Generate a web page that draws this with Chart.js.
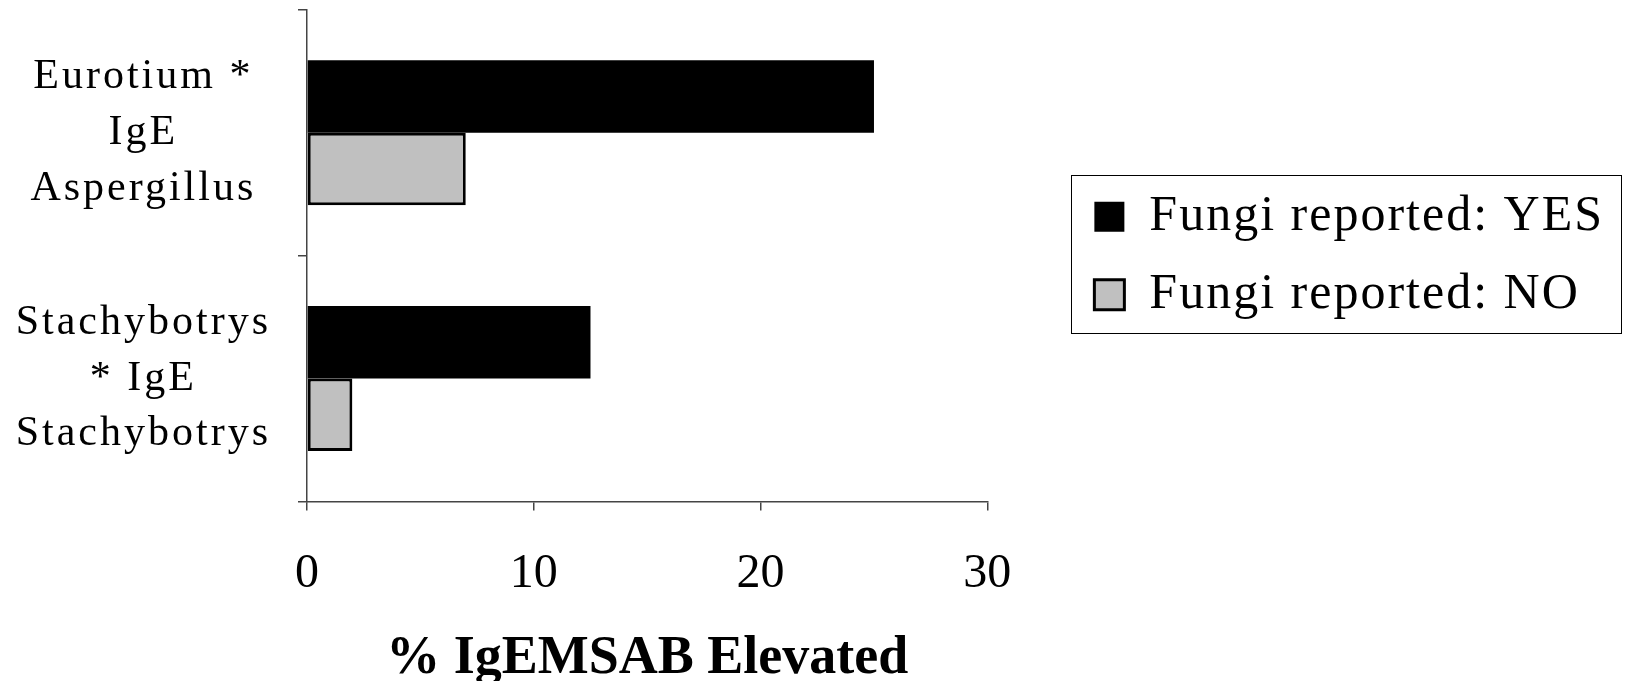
<!DOCTYPE html>
<html>
<head>
<meta charset="utf-8">
<script src="https://cdn.jsdelivr.net/npm/chart.js@4"></script>
<style>
  html, body { margin: 0; padding: 0; background: #fff; }
  #wrap { width: 1626px; height: 681px; position: relative; }
</style>
</head>
<body>
<div id="wrap"><canvas id="c"></canvas></div>
<script>
// Categories (multi-line labels) and series values
const categories = [
  ["Eurotium *", "IgE", "Aspergillus"],
  ["Stachybotrys", "* IgE", "Stachybotrys"]
];
const seriesNames = ["Fungi reported: YES", "Fungi reported: NO"];
const fungiYes = [25, 12.5];
const fungiNo = [7, 2];
const xTicks = [0, 10, 20, 30];
const axisTitle = "% IgEMSAB Elevated";

const SERIF = "'Liberation Serif', 'Times New Roman', serif";
const AXIS_COLOR = '#444';

// Wraps measuring and drawing methods so their text uses extra letter spacing
function spaced(obj, methods, spacing) {
  if (!obj || obj.__spaced) return;
  obj.__spaced = true;
  methods.forEach(m => {
    const orig = obj[m];
    if (typeof orig !== 'function') return;
    obj[m] = function (...args) {
      const ctx = this.ctx;
      const prev = ctx.letterSpacing;
      ctx.letterSpacing = spacing;
      try { return orig.apply(this, args); }
      finally { ctx.letterSpacing = prev; }
    };
  });
}

const letterSpacing = {
  id: 'letterSpacing',
  beforeLayout(chart) {
    spaced(chart.scales.y, ['fit', 'drawLabels'], '3px');
    spaced(chart.legend, ['fit', 'draw'], '2px');
  }
};

// Frame drawn around the legend items
const legendFrame = {
  id: 'legendFrame',
  afterDraw(chart) {
    const lg = chart.legend;
    if (!lg || !lg.legendHitBoxes || !lg.legendHitBoxes.length) return;
    const hb = lg.legendHitBoxes;
    const l = Math.min(...hb.map(h => h.left)) - 23;
    const t = Math.min(...hb.map(h => h.top)) - 17;
    const r = Math.max(...hb.map(h => h.left + h.width)) + 17;
    const b = Math.max(...hb.map(h => h.top + h.height)) + 13;
    const ctx = chart.ctx;
    ctx.save();
    ctx.strokeStyle = '#000';
    ctx.lineWidth = 1;
    ctx.strokeRect(Math.round(l) + 0.5, Math.round(t) + 0.5, Math.round(r - l), Math.round(b - t));
    ctx.restore();
  }
};

new Chart(document.getElementById('c'), {
  type: 'bar',
  data: {
    labels: categories,
    datasets: [
      {
        label: seriesNames[0],
        data: fungiYes,
        backgroundColor: '#000000',
        borderColor: '#000000',
        borderWidth: 0,
        xAxisID: 'x',
        yAxisID: 'y'
      },
      {
        label: seriesNames[1],
        data: fungiNo,
        backgroundColor: '#c0c0c0',
        borderColor: '#000000',
        borderWidth: 3,
        borderSkipped: false,
        xAxisID: 'x',
        yAxisID: 'y'
      }
    ]
  },
  options: {
    indexAxis: 'y',
    responsive: true,
    maintainAspectRatio: false,
    devicePixelRatio: 1,
    animation: false,
    layout: { padding: { top: 10, right: 12, bottom: 0, left: 0 } },
    datasets: {
      bar: { categoryPercentage: 0.59, barPercentage: 1.0 }
    },
    scales: {
      x: {
        type: 'linear',
        position: 'bottom',
        min: 0,
        max: 30,
        afterBuildTicks: s => { s.ticks = xTicks.map(v => ({ value: v })); },
        grid: { display: true, drawOnChartArea: false, tickLength: 9, color: AXIS_COLOR, lineWidth: 1.5 },
        border: { display: true, color: AXIS_COLOR, width: 1.5 },
        ticks: {
          color: '#000',
          padding: 35,
          maxRotation: 0,
          font: { family: SERIF, size: 48, lineHeight: 1.2 }
        },
        title: {
          display: true,
          text: axisTitle,
          color: '#000',
          padding: { top: -6, bottom: -5 },
          font: { family: SERIF, size: 54, weight: 'bold', lineHeight: 1.0 }
        }
      },
      y: {
        type: 'category',
        position: 'left',
        offset: true,
        afterFit: s => { s.width = 307; s.paddingTop = 0; s.paddingBottom = 0; },
        grid: { display: true, drawOnChartArea: false, offset: true, tickLength: 9, color: AXIS_COLOR, lineWidth: 1.5 },
        border: { display: true, color: AXIS_COLOR, width: 1.5 },
        ticks: {
          color: '#000',
          padding: 27,
          autoSkip: false,
          crossAlign: 'center',
          font: { family: SERIF, size: 42, lineHeight: 1.33 }
        }
      },
      gap: {
        type: 'linear',
        position: 'right',
        display: true,
        grid: { display: false },
        border: { display: false },
        ticks: { display: false },
        afterFit: s => { s.width = 79; s.paddingTop = 0; s.paddingBottom = 0; }
      }
    },
    plugins: {
      legend: {
        display: true,
        position: 'right',
        align: 'center',
        fullSize: false,
        maxWidth: 800,
        labels: {
          color: '#000',
          boxWidth: 30,
          boxHeight: 30,
          padding: 28,
          font: { family: SERIF, size: 50 }
        }
      },
      tooltip: { enabled: false }
    }
  },
  plugins: [letterSpacing, legendFrame]
});
</script>
</body>
</html>
